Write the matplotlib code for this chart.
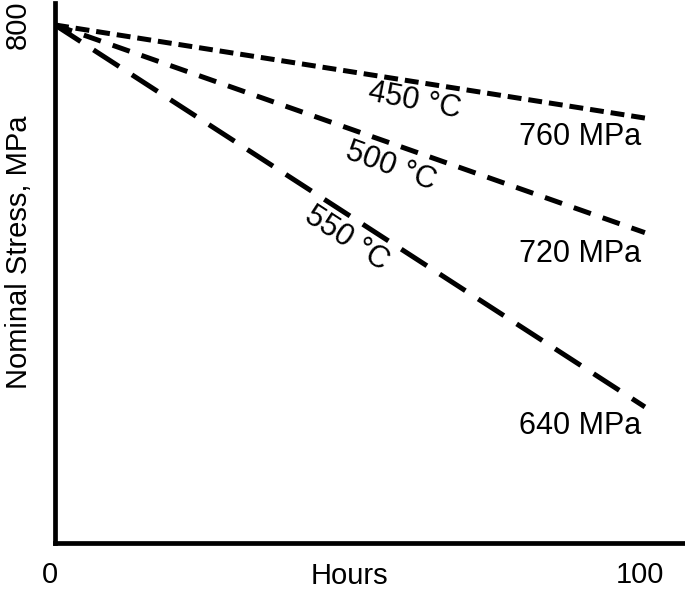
"""Nominal stress relaxation over time at three temperatures (schematic)."""

import matplotlib

matplotlib.use("Agg")
import matplotlib.pyplot as plt
from matplotlib.transforms import ScaledTranslation

plt.rcParams["font.family"] = ["Liberation Sans", "DejaVu Sans"]
plt.rcParams["lines.scale_dashes"] = False

# Data
hours = [0, 100]
temperatures = ["450 °C", "500 °C", "550 °C"]
stress_450 = [800, 761]
stress_500 = [800, 713]
stress_550 = [800, 640]
end_labels = ["760 MPa", "720 MPa", "640 MPa"]
x_ticks = [0, 100]
y_ticks = [800]


def main() -> int:
    fig = plt.figure(figsize=(6.85, 5.89), dpi=100)
    ax = fig.add_axes([55 / 685, 1 - 543 / 589, 630 / 685, 540 / 589])

    series = [stress_450, stress_500, stress_550]
    dashes = [(10, 5), (13, 9), (22, 11)]
    for values, dash in zip(series, dashes):
        (line,) = ax.plot(hours, values, color="black", linewidth=3.6)
        line.set_dashes(dash)

    # temperature labels laid along each line
    label_pos = [(61, 768, -11), (57, 740.5, -20), (49.5, 710.5, -33)]
    for text, (x, y, angle) in zip(temperatures, label_pos):
        ax.text(x, y, text, fontsize=22, rotation=angle, rotation_mode="anchor",
                ha="center", va="center")

    # end-point stress labels
    end_offsets = [-8, -9, -8]
    for text, values, dy in zip(end_labels, series, end_offsets):
        ax.text(89, values[-1] + dy, text, fontsize=22, ha="center", va="center")

    ax.set_xlim(0, 106.8)
    ax.set_ylim(583, 809.2)
    ax.set_xticks(x_ticks)
    ax.set_yticks(y_ticks)
    ax.tick_params(axis="both", length=0, labelsize=21)
    ax.tick_params(axis="x", pad=13)
    ax.tick_params(axis="y", pad=17, labelrotation=90)
    for label in ax.get_yticklabels():
        label.set_va("center")
    shift = ScaledTranslation(-5 / 100, 0, fig.dpi_scale_trans)
    for label in ax.get_xticklabels():
        label.set_transform(label.get_transform() + shift)

    ax.set_xlabel("Hours", fontsize=21)
    ax.xaxis.set_label_coords(0.467, -0.036)
    ax.set_ylabel("Nominal Stress, MPa", fontsize=21)
    ax.yaxis.set_label_coords(-0.035, 0.539)

    for side in ("top", "right"):
        ax.spines[side].set_visible(False)
    for side in ("left", "bottom"):
        ax.spines[side].set_linewidth(3.4)

    fig.savefig("out.png", dpi=100)
    plt.close(fig)
    return 0


if __name__ == "__main__":
    main()
